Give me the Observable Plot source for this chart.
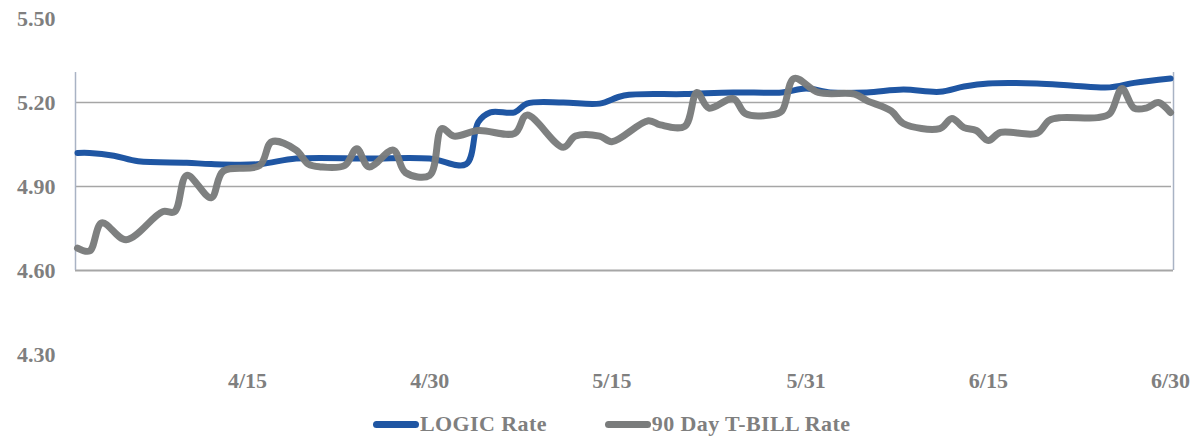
<!DOCTYPE html>
<html>
<head>
<meta charset="utf-8">
<script src="https://cdn.jsdelivr.net/npm/d3@7"></script>
<script src="https://cdn.jsdelivr.net/npm/@observablehq/plot@0.6"></script>
<style>
  html, body { margin: 0; padding: 0; background: #ffffff; font-family: "Liberation Serif", "DejaVu Serif", serif; overflow: hidden; }
  #chart svg { display: block; }
  #legend { box-sizing: border-box; height: 34px; padding-top: 4px; display: flex; align-items: center; padding-left: 373px;
            font-weight: bold; font-size: 22px; color: #7f7f7f; line-height: 26px; letter-spacing: 0.4px; }
  .sw { display: inline-block; width: 46px; height: 7px; border-radius: 4px; margin-right: 1px; }
  .item { display: flex; align-items: center; white-space: nowrap; }
</style>
</head>
<body>
<div id="chart"></div>
<div id="legend"></div>
<script>
// ---- data ----
const seriesNames = ["LOGIC Rate", "90 Day T-BILL Rate"];
const seriesColors = ["#1f56a3", "#7a7c7c"];

const logicDates = ["2023-04-01","2023-04-02","2023-04-04","2023-04-06","2023-04-10","2023-04-12","2023-04-16","2023-04-19","2023-04-25","2023-04-30","2023-05-03","2023-05-04","2023-05-05","2023-05-07","2023-05-08","2023-05-11","2023-05-14","2023-05-16","2023-05-21","2023-05-25","2023-05-29","2023-05-31","2023-06-02","2023-06-05","2023-06-08","2023-06-11","2023-06-13","2023-06-15","2023-06-19","2023-06-22","2023-06-25","2023-06-27","2023-06-30"];
const logicRate  = [5.02,5.02,5.01,4.99,4.985,4.98,4.98,5.0,5.0,5.0,4.98,5.13,5.165,5.165,5.196,5.20,5.196,5.225,5.23,5.236,5.236,5.25,5.236,5.236,5.246,5.238,5.257,5.268,5.268,5.26,5.254,5.27,5.286];

const tbillDates = ["2023-04-01","2023-04-02","2023-04-03","2023-04-05","2023-04-08","2023-04-09","2023-04-10","2023-04-12","2023-04-13","2023-04-16","2023-04-17","2023-04-19","2023-04-20","2023-04-21","2023-04-23","2023-04-24","2023-04-25","2023-04-27","2023-04-28","2023-04-30","2023-05-01","2023-05-02","2023-05-04","2023-05-07","2023-05-08","2023-05-11","2023-05-12","2023-05-14","2023-05-15","2023-05-18","2023-05-19","2023-05-21","2023-05-22","2023-05-23","2023-05-25","2023-05-26","2023-05-28","2023-05-29","2023-05-30","2023-06-01","2023-06-04","2023-06-05","2023-06-07","2023-06-08","2023-06-11","2023-06-12","2023-06-13","2023-06-14","2023-06-15","2023-06-16","2023-06-19","2023-06-20","2023-06-21","2023-06-24","2023-06-25","2023-06-26","2023-06-27","2023-06-28","2023-06-29","2023-06-30"];
const tbillRate  = [4.68,4.67,4.77,4.71,4.81,4.81,4.94,4.86,4.955,4.975,5.06,5.03,4.98,4.97,4.975,5.035,4.97,5.03,4.95,4.94,5.107,5.08,5.10,5.09,5.155,5.04,5.08,5.08,5.06,5.135,5.12,5.115,5.236,5.18,5.214,5.16,5.155,5.17,5.286,5.236,5.23,5.207,5.17,5.125,5.107,5.143,5.11,5.10,5.064,5.093,5.09,5.136,5.146,5.146,5.16,5.25,5.18,5.18,5.20,5.164];

const xTickDates  = ["2023-04-15","2023-04-30","2023-05-15","2023-05-31","2023-06-15","2023-06-30"];
const xTickLabels = ["4/15","4/30","5/15","5/31","6/15","6/30"];
const yTicks = [4.30, 4.60, 4.90, 5.20, 5.50];
const gridValues = [4.90, 5.20];
const frameBottom = 4.60;
const frameTop = 5.307;
const xDomainDates = ["2023-04-01","2023-06-30"];

// ---- build ----
const parse = d3.utcParse("%Y-%m-%d");
const logic = logicDates.map((d, i) => ({date: parse(d), value: logicRate[i], series: seriesNames[0]}));
const tbill = tbillDates.map((d, i) => ({date: parse(d), value: tbillRate[i], series: seriesNames[1]}));
const xDomain = xDomainDates.map(parse);
const tickDates = xTickDates.map(parse);
const labelOf = new Map(tickDates.map((d, i) => [+d, xTickLabels[i]]));

const font = "Liberation Serif";
const chart = Plot.plot({
  width: 1196,
  height: 405,
  marginTop: 18,
  marginBottom: 51,
  marginLeft: 77,
  marginRight: 26,
  style: {fontFamily: font, fontSize: "22px", fontWeight: "bold", color: "#7f7f7f", background: "transparent", overflow: "visible"},
  x: {type: "utc", domain: xDomain},
  y: {domain: [4.30, 5.50]},
  marks: [
    Plot.ruleY(gridValues, {x1: xDomain[0], x2: xDomain[1], stroke: "#a6a6a6", strokeWidth: 1.5, dx: -1, insetRight: -2}),
    Plot.ruleY([frameBottom], {x1: xDomain[0], x2: xDomain[1], stroke: "#a6a6a6", strokeWidth: 2, insetLeft: -2, insetRight: -3}),
    Plot.ruleX([xDomain[0]], {y1: frameBottom, y2: frameTop, stroke: "#a9b3c4", strokeWidth: 1.5, dx: -2}),
    Plot.ruleX([xDomain[1]], {y1: frameBottom, y2: frameTop, stroke: "#a9b3c4", strokeWidth: 1.5, dx: 3}),
    Plot.axisY(yTicks, {label: null, tickSize: 0, tickPadding: 22, tickFormat: d3.format(".2f"), fill: "#7f7f7f", fontWeight: "bold", letterSpacing: "-0.5px"}),
    Plot.axisX(tickDates, {label: null, tickSize: 0, tickPadding: 18, tickFormat: d => labelOf.get(+d), fill: "#7f7f7f", fontWeight: "bold", letterSpacing: "-0.5px"}),
    Plot.lineY(logic, {x: "date", y: "value", stroke: seriesColors[0], strokeWidth: 6, curve: "catmull-rom", strokeLinecap: "round", strokeLinejoin: "round"}),
    Plot.lineY(tbill, {x: "date", y: "value", stroke: seriesColors[1], strokeWidth: 7, curve: "catmull-rom", strokeLinecap: "round", strokeLinejoin: "round", strokeOpacity: 0.97})
  ]
});
document.getElementById("chart").appendChild(chart);

const legend = document.getElementById("legend");
seriesNames.forEach((name, i) => {
  const item = document.createElement("span");
  item.className = "item";
  if (i > 0) item.style.marginLeft = "58px";
  const sw = document.createElement("span");
  sw.className = "sw";
  sw.style.background = seriesColors[i];
  item.appendChild(sw);
  item.appendChild(document.createTextNode(name));
  legend.appendChild(item);
});
</script>
</body>
</html>
